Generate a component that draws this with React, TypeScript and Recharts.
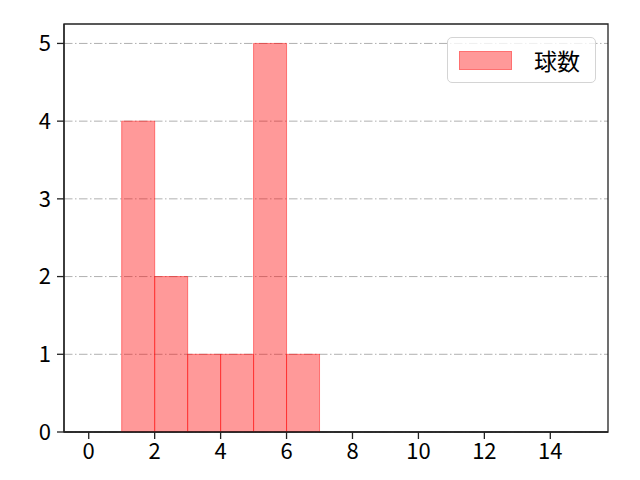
import React from "react";
import { BarChart, Bar, XAxis, YAxis, CartesianGrid, Legend, ReferenceArea } from "recharts";

// histogram bins (edges) and counts per bin
const binEdges = [1, 2, 3, 4, 5, 6, 7];
const pitchCounts = [4, 2, 1, 1, 5, 1];
const xTicks = [0, 2, 4, 6, 8, 10, 12, 14];
const yTicks = [0, 1, 2, 3, 4, 5];
const xDomain = [-0.75, 15.75];
const yDomain = [0, 5.25];
const seriesName = "球数";

const data = pitchCounts.map((count, i) => ({
  mid: (binEdges[i] + binEdges[i + 1]) / 2,
  count,
}));

const FONT = "'Noto Sans CJK JP', 'DejaVu Sans', sans-serif";
const tickStyle = { fill: "#000", fontSize: 22, fontFamily: FONT };
const axisStroke = { stroke: "#222", strokeWidth: 1.3 };

function LegendBox({ payload }: any) {
  return (
    <div
      style={{
        width: 149,
        height: 46,
        boxSizing: "border-box",
        border: "1px solid #d4d4d4",
        borderRadius: 5,
        background: "rgba(255,255,255,0.8)",
        display: "flex",
        alignItems: "center",
        paddingLeft: 11,
        fontFamily: FONT,
      }}
    >
      {(payload || []).map((p: any) => (
        <React.Fragment key={p.value}>
          <span
            style={{
              display: "inline-block",
              width: 53,
              height: 19,
              boxSizing: "border-box",
              background: "#ff9999",
              border: "1px solid #ff7070",
            }}
          />
          <span style={{ marginLeft: 22, fontSize: 23, color: "#000", lineHeight: 1 }}>
            {p.value}
          </span>
        </React.Fragment>
      ))}
    </div>
  );
}

export default function App() {
  return (
    <div style={{ position: "absolute", left: 0, top: 0, width: 640, height: 480, background: "#fff" }}>
      <BarChart
        width={640}
        height={480}
        data={data}
        margin={{ top: 24, right: 32, bottom: 0, left: 0 }}
        barCategoryGap={0}
        barGap={0}
      >
        <CartesianGrid
          vertical={false}
          horizontalValues={yTicks}
          stroke="#b0b0b0"
          strokeWidth={1}
          strokeDasharray="8.5 2.5 1.5 2.5"
        />
        <XAxis
          dataKey="mid"
          type="number"
          domain={xDomain}
          ticks={xTicks}
          allowDataOverflow
          interval={0}
          height={48}
          tick={tickStyle}
          tickSize={7}
          tickMargin={4}
          axisLine={axisStroke}
          tickLine={axisStroke}
        />
        <YAxis
          type="number"
          domain={yDomain}
          ticks={yTicks}
          allowDataOverflow
          interval={0}
          width={64}
          tick={tickStyle}
          tickSize={7}
          tickMargin={6}
          axisLine={axisStroke}
          tickLine={axisStroke}
        />
        <Bar
          dataKey="count"
          name={seriesName}
          fill="#ff0000"
          fillOpacity={0.4}
          stroke="#ff0000"
          strokeOpacity={0.45}
          strokeWidth={1}
          isAnimationActive={false}
        />
        {/* axes frame */}
        <ReferenceArea
          x1={xDomain[0]}
          x2={xDomain[1]}
          y1={yDomain[0]}
          y2={yDomain[1]}
          fill="none"
          stroke="#222"
          strokeWidth={1.3}
          ifOverflow="visible"
        />
        <Legend
          layout="horizontal"
          verticalAlign="middle"
          align="center"
          content={<LegendBox />}
          wrapperStyle={{ position: "absolute", left: 447, top: 37, width: "auto", height: "auto" }}
        />
      </BarChart>
    </div>
  );
}
